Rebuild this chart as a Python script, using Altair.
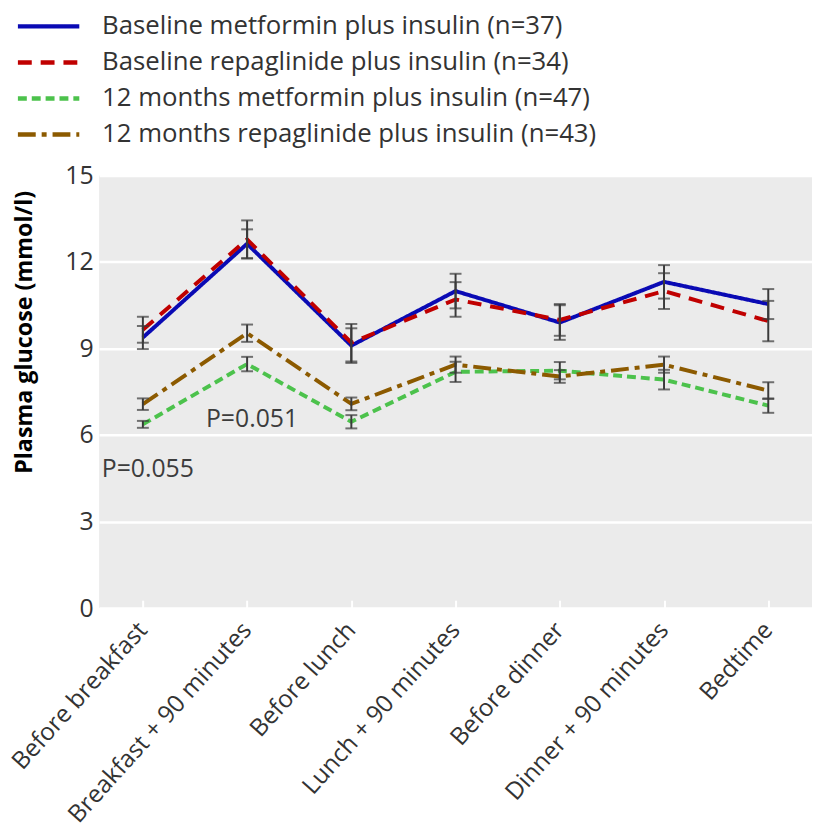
import altair as alt
import pandas as pd

times = ["Before breakfast", "Breakfast + 90 minutes", "Before lunch",
         "Lunch + 90 minutes", "Before dinner", "Dinner + 90 minutes", "Bedtime"]
series = ["Baseline metformin plus insulin (n=37)",
          "Baseline repaglinide plus insulin (n=34)",
          "12 months metformin plus insulin (n=47)",
          "12 months repaglinide plus insulin (n=43)"]

base_met = [9.38, 12.63, 9.10, 10.99, 9.90, 11.31, 10.54]
base_met_err = [0.40, 0.50, 0.60, 0.60, 0.60, 0.58, 0.52]
base_rep = [9.65, 12.78, 9.20, 10.70, 9.99, 10.99, 9.95]
base_rep_err = [0.45, 0.66, 0.65, 0.60, 0.55, 0.62, 0.70]
m12_met = [6.37, 8.46, 6.46, 8.19, 8.23, 7.92, 7.02]
m12_met_err = [0.12, 0.25, 0.23, 0.35, 0.30, 0.34, 0.25]
m12_rep = [7.07, 9.53, 7.08, 8.44, 8.03, 8.44, 7.54]
m12_rep_err = [0.20, 0.30, 0.22, 0.28, 0.22, 0.28, 0.29]

p_labels = ["P=0.055", "P=0.051"]
p_times = ["Before breakfast", "Breakfast + 90 minutes"]
p_values = [4.83, 6.55]

colors = ["#0a0ab4", "#c00000", "#4cc24c", "#8c5a00"]
dashes = [[1, 0], [14, 9], [9, 5], [18, 6, 5, 6]]

rows = []
for name, vals, errs in zip(series, [base_met, base_rep, m12_met, m12_rep],
                            [base_met_err, base_rep_err, m12_met_err, m12_rep_err]):
    for t, v, e in zip(times, vals, errs):
        rows.append({"series": name, "time": t, "value": v, "lo": v - e, "hi": v + e})
df = pd.DataFrame(rows)
ann = pd.DataFrame({"label": p_labels, "time": p_times, "value": p_values})

x_enc = alt.X("time:N", sort=times,
              scale=alt.Scale(type="point", padding=0.42),
              axis=alt.Axis(title=None, labelAngle=-48, labelAlign="right",
                            labelBaseline="middle", labelFontSize=24.5,
                            labelColor="#333333", labelPadding=18, labelLimit=0,
                            domain=False, ticks=True, tickColor="white",
                            tickWidth=2, tickSize=8, offset=-8, grid=False))
y_scale = alt.Scale(domain=[0, 15], nice=False, zero=True)
y_enc = alt.Y("value:Q", scale=y_scale,
              axis=alt.Axis(title="Plasma glucose (mmol/l)", values=[0, 3, 6, 9, 12, 15],
                            labelFontSize=25, labelColor="#333333", labelPadding=6,
                            titleFontSize=23.5, titleFontWeight="bold", titleColor="black",
                            titleAngle=270, titleAlign="center", titleBaseline="alphabetic",
                            titleX=-68, titleY=158,
                            domain=False, ticks=False,
                            grid=True, gridColor="white", gridWidth=2.5))

lines = alt.Chart(df).mark_line(strokeWidth=4).encode(
    x=x_enc, y=y_enc,
    color=alt.Color("series:N", sort=series,
                    scale=alt.Scale(domain=series, range=colors), title=None),
    strokeDash=alt.StrokeDash("series:N", sort=series,
                              scale=alt.Scale(domain=series, range=dashes), title=None),
    order=alt.Order("series:N"),
)

bars = alt.Chart(df).mark_rule(color="#3a3a3a", strokeWidth=2).encode(
    x=alt.X("time:N", sort=times), y=alt.Y("lo:Q", scale=y_scale), y2="hi:Q",
    detail="series:N")
caps_lo = alt.Chart(df).mark_tick(color="#3a3a3a", thickness=2, size=12).encode(
    x=alt.X("time:N", sort=times), y=alt.Y("lo:Q", scale=y_scale))
caps_hi = alt.Chart(df).mark_tick(color="#3a3a3a", thickness=2, size=12).encode(
    x=alt.X("time:N", sort=times), y=alt.Y("hi:Q", scale=y_scale))

texts = alt.Chart(ann).mark_text(fontSize=25, color="#3c3c3c", align="center",
                                 baseline="middle", dx=5).encode(
    x=alt.X("time:N", sort=times), y=alt.Y("value:Q", scale=y_scale), text="label:N")

chart = alt.layer(lines, bars, caps_lo, caps_hi, texts).properties(
    width=720, height=437,
    autosize=alt.AutoSizeParams(type="none"),
    padding={"left": 92, "top": 165, "right": 4, "bottom": 218}
).configure(font="Open Sans").configure_view(
    fill="#ebebeb", stroke=None
).configure_legend(
    orient="none", legendX=-64, legendY=-163.5,
    symbolType="M-6.2,0H6.2", symbolSize=100, symbolStrokeWidth=4.5,
    labelFontSize=26, labelColor="#333333", labelFont="Open Sans",
    labelOffset=41, labelLimit=0, rowPadding=10.4, padding=0
)

chart.save("out.html", embed_options={"renderer": "svg", "actions": False})
